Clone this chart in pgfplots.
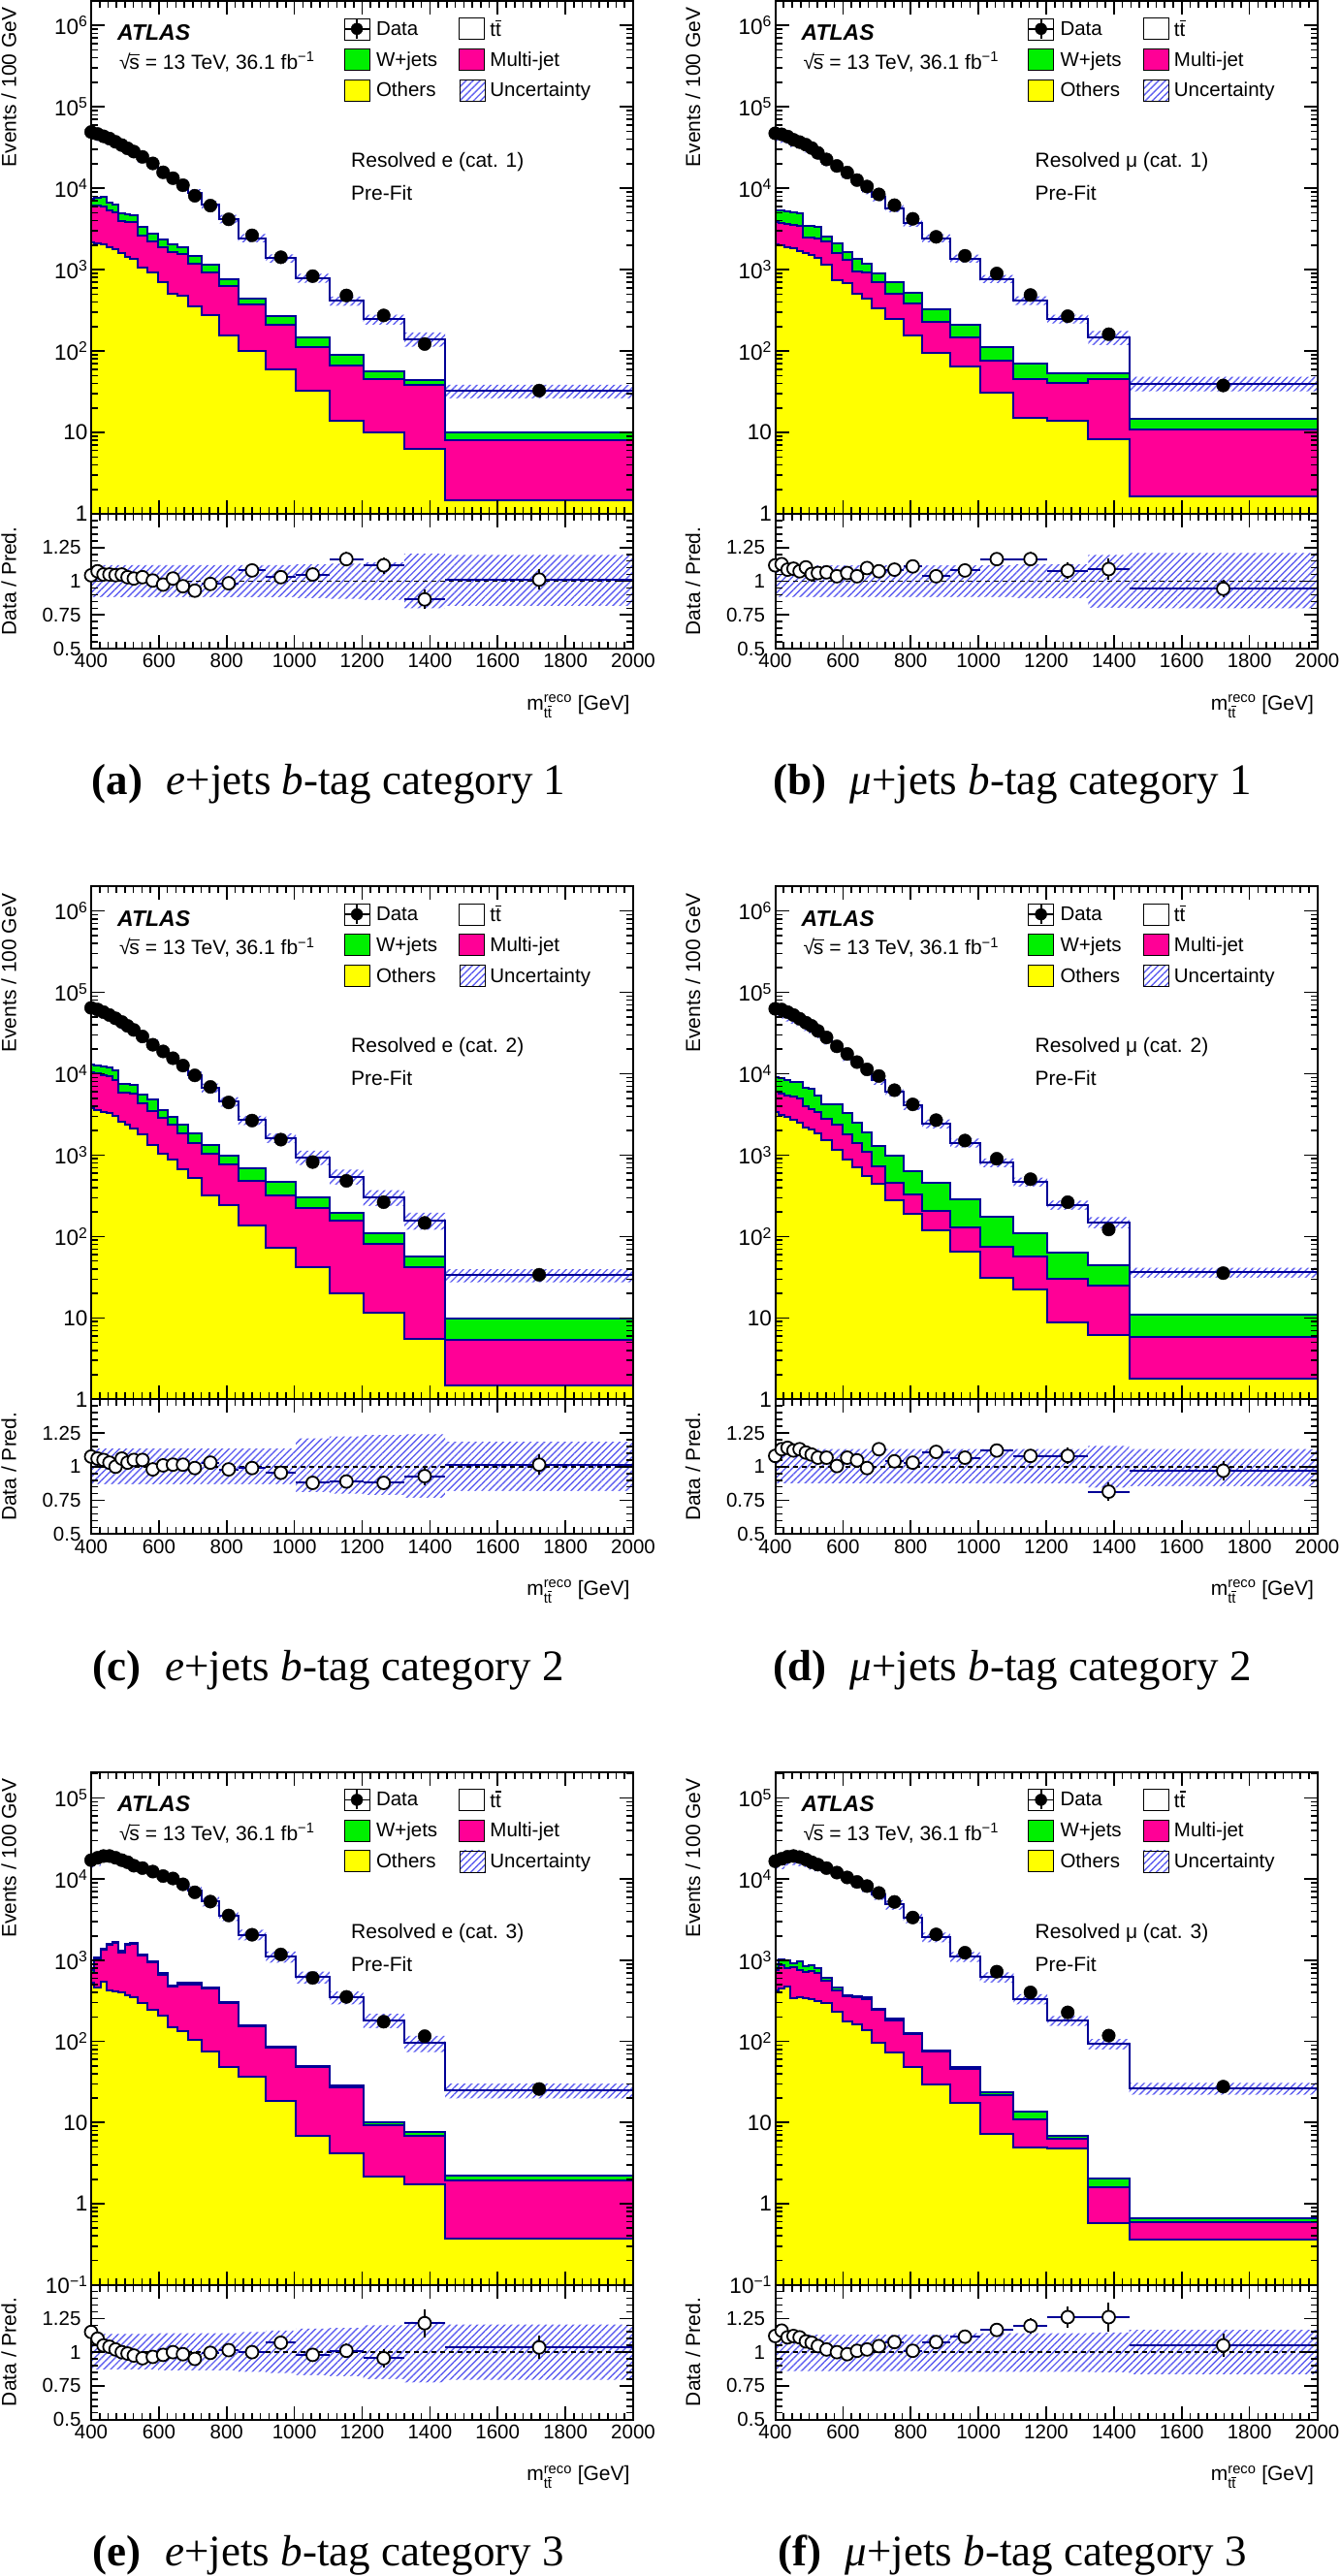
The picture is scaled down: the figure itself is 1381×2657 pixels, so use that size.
\documentclass[border=0pt]{standalone}
\usepackage{amsmath}
\usepackage{fontspec}
\setmainfont{Liberation Sans}
\newfontfamily\serifcap{Liberation Serif}
\usepackage{pgfplots}
\usepackage{pgfplotstable}
\pgfplotsset{compat=1.18}
\usetikzlibrary{patterns.meta}

\definecolor{histblue}{RGB}{0,0,150}
\definecolor{wjcol}{RGB}{0,240,0}
\definecolor{mjcol}{RGB}{255,0,150}
\definecolor{othcol}{RGB}{255,255,0}
\definecolor{hatchcol}{RGB}{95,95,240}

\newcommand\tickfont{\fontsize{20.5}{23}\selectfont}
\newcommand\ytickfont{\fontsize{22.5}{26}\selectfont}
\newcommand\txtfont{\fontsize{21}{25}\selectfont}
\newcommand\legfont{\fontsize{20.5}{24}\selectfont}
\newcommand\atlasfont{\fontsize{23}{28}\selectfont\bfseries\itshape}
\newcommand\capfont{\serifcap\fontsize{45}{50}\selectfont}
\newcommand\tbar{\leavevmode\rlap{\raisebox{0.76em}{\rule{0.29em}{0.07em}}}t}
\newcommand\ttb{t\tbar}
\newcommand\sqrts{√\kern-0.06em\rlap{\raisebox{0.70em}{\rule{0.52em}{0.06em}}}s}

% columns: e=low edge, c=centre, d=data, r=data/pred, ey=ratio stat error,
% tot, w, mj, oth = stack tops, lo/hi = ratio band. First/last rows close the areas.
\pgfplotstableread{
e c d r ey tot w mj oth lo hi
390 nan nan nan 0 0.001 0.001 0.001 0.001 0.3 0.3
390 400 49100 1.044 0.01 47030 7450 6170 2140 0.88 1.12
410 419 46400 1.074 0.01 43200 7600 6100 2100 0.88 1.12
428 436.5 43500 1.05 0.01 41430 7770 6000 2050 0.88 1.12
445 454 40800 1.05 0.01 38860 6600 5300 1870 0.88 1.12
463 472 37200 1.045 0.01 35600 6330 5130 1800 0.88 1.12
481 490.5 33900 1.05 0.01 32290 4900 3950 1620 0.88 1.12
500 507.5 30900 1.03 0.01 30000 4800 3900 1450 0.88 1.12
515 526 28200 1.02 0.01 27650 4700 3850 1350 0.88 1.12
537 551.5 24300 1.03 0.01 23590 3400 2630 1070 0.88 1.12
566 582 20200 1.005 0.01 20100 2770 2240 930 0.88 1.12
598 612.5 15700 0.975 0.01 16100 2350 1910 710 0.88 1.12
627 641.5 13300 1.02 0.01 13040 2040 1630 500 0.88 1.12
656 671 10900 0.963 0.01 11320 1910 1550 480 0.88 1.12
686 706 8090 0.93 0.012 8700 1480 1170 355 0.88 1.12
726 752 6120 0.98 0.018 6245 1140 915 276 0.88 1.12
778 806 4150 0.985 0.021 4213 762 634 154 0.88 1.12
834 875 2640 1.08 0.023 2444 445 377 101 0.88 1.12
916 960 1420 1.03 0.029 1379 268 212 60 0.88 1.12
1004 1054 832 1.05 0.036 792 147 111 32.9 0.875 1.125
1104 1153.5 482 1.164 0.053 414 90 65.8 13.9 0.87 1.13
1203 1263.5 274 1.118 0.061 245 56.7 45 9.9 0.86 1.14
1324 1384.5 122 0.865 0.071 141 44.2 38.5 6.2 0.80 1.205
1445 1722.5 32.7 1.012 0.075 32.3 10.1 8.0 1.45 0.815 1.195
2000 nan nan nan 0 32.3 10.1 8.0 1.45 0.815 1.195
2000 nan nan nan 0 0.001 0.001 0.001 0.001 0.3 0.3
}\tabA

\pgfplotstableread{
e c d r ey tot w mj oth lo hi
390 nan nan nan 0 0.001 0.001 0.001 0.001 0.3 0.3
390 400 47300 1.118 0.01 42310 5400 3800 2040 0.882 1.118
410 419 46000 1.127 0.01 40820 5400 3700 1980 0.882 1.118
428 436.5 43200 1.086 0.01 39780 5150 3600 1900 0.882 1.118
445 454 39400 1.093 0.01 36050 5000 3500 1820 0.882 1.118
463 472 36900 1.074 0.01 34360 4900 3460 1700 0.882 1.118
481 490.5 34300 1.103 0.01 31100 3460 2500 1620 0.882 1.118
500 507.5 31200 1.054 0.01 29600 3460 2460 1500 0.882 1.118
515 526 27200 1.061 0.01 25640 3400 2400 1410 0.882 1.118
537 551.5 22600 1.066 0.01 21200 2530 2200 1143 0.882 1.118
566 582 18800 1.037 0.01 18130 2100 1620 740 0.882 1.118
598 612.5 15600 1.061 0.01 14700 1650 1320 675 0.882 1.118
627 641.5 12600 1.037 0.01 12150 1350 945 500 0.882 1.118
656 671 10500 1.098 0.01 9563 1170 930 436 0.882 1.118
686 706 8410 1.074 0.012 7831 890 695 336 0.882 1.118
726 752 6200 1.086 0.018 5709 695 510 251 0.882 1.118
778 806 4210 1.11 0.021 3793 521 387 154 0.882 1.118
834 875 2530 1.037 0.023 2440 322 229 94 0.882 1.118
916 960 1480 1.08 0.03 1370 209 147 64 0.882 1.118
1004 1054 897 1.164 0.039 771 113 77 30.5 0.882 1.118
1104 1153.5 488 1.164 0.053 419 70 45.4 15.3 0.875 1.125
1203 1263.5 268 1.078 0.06 249 53 41 13.9 0.875 1.125
1324 1384.5 161 1.09 0.078 148 54 45 8.2 0.804 1.196
1445 1722.5 37.8 0.944 0.065 40 14.6 11 1.66 0.80 1.21
2000 nan nan nan 0 40 14.6 11 1.66 0.80 1.21
2000 nan nan nan 0 0.001 0.001 0.001 0.001 0.3 0.3
}\tabB

\pgfplotstableread{
e c d r ey tot w mj oth lo hi
390 nan nan nan 0 0.001 0.001 0.001 0.001 0.3 0.3
390 400 64500 1.075 0.01 60000 12860 10280 3760 0.87 1.135
410 419 61500 1.06 0.01 58020 12620 10090 3590 0.87 1.135
428 436.5 57100 1.05 0.01 54380 12400 9720 3420 0.87 1.135
445 454 52600 1.03 0.01 51070 12050 9370 3270 0.87 1.135
463 472 47900 1.0 0.01 47900 10970 8300 3060 0.87 1.135
481 490.5 43200 1.06 0.01 40750 7560 5880 2590 0.87 1.135
500 507.5 38700 1.03 0.01 37570 7500 5800 2360 0.87 1.135
515 526 34500 1.05 0.01 32860 7370 5660 2150 0.87 1.135
537 551.5 28700 1.05 0.01 27330 5560 4320 1780 0.87 1.135
566 582 22700 0.98 0.01 23160 4830 3490 1350 0.87 1.135
598 612.5 18800 1.01 0.01 18610 3590 2840 1040 0.87 1.135
627 641.5 15500 1.015 0.01 15270 2980 2360 885 0.87 1.135
656 671 12600 1.015 0.01 12410 2360 1870 670 0.87 1.135
686 706 9540 0.99 0.012 9636 1870 1410 531 0.87 1.135
726 752 6890 1.03 0.016 6689 1350 1040 318 0.87 1.135
778 806 4440 0.98 0.02 4531 973 771 240 0.87 1.135
834 875 2660 0.99 0.022 2687 683 483 137 0.87 1.135
916 960 1550 0.955 0.026 1623 474 324 72.8 0.87 1.135
1004 1054 822 0.88 0.031 934 303 225 41.6 0.81 1.21
1104 1153.5 483 0.89 0.04 543 194 158 20.3 0.80 1.225
1203 1263.5 264 0.88 0.049 300 109 82 11.6 0.79 1.235
1324 1384.5 147 0.93 0.07 158 56.6 42 5.5 0.77 1.24
1445 1722.5 33.9 1.015 0.074 33.4 9.8 5.4 1.5 0.82 1.185
2000 nan nan nan 0 33.4 9.8 5.4 1.5 0.82 1.185
2000 nan nan nan 0 0.001 0.001 0.001 0.001 0.3 0.3
}\tabC

\pgfplotstableread{
e c d r ey tot w mj oth lo hi
390 nan nan nan 0 0.001 0.001 0.001 0.001 0.3 0.3
390 400 62800 1.08 0.01 58150 9120 5990 3360 0.875 1.13
410 419 61500 1.13 0.01 54420 8800 5700 3150 0.875 1.13
428 436.5 57100 1.14 0.01 50090 8300 5460 2980 0.875 1.13
445 454 52600 1.12 0.01 46960 8000 5200 2700 0.875 1.13
463 472 47400 1.13 0.01 41950 7920 4970 2470 0.875 1.13
481 490.5 42400 1.105 0.01 38370 6700 3940 2210 0.875 1.13
500 507.5 38700 1.09 0.01 35500 6500 3700 2050 0.875 1.13
515 526 33600 1.067 0.01 31490 5460 3420 1870 0.875 1.13
537 551.5 27900 1.067 0.01 26150 4200 2790 1510 0.875 1.13
566 582 21700 1.005 0.01 21590 4200 2400 1170 0.875 1.13
598 612.5 17500 1.067 0.01 16400 3270 1820 885 0.875 1.13
627 641.5 13900 1.047 0.01 13280 2470 1410 702 0.875 1.13
656 671 11300 0.99 0.01 11410 1920 1097 556 0.875 1.13
686 706 9370 1.13 0.012 8292 1285 735 440 0.875 1.13
726 752 6280 1.04 0.016 6038 973 461 281 0.875 1.13
778 806 4200 1.03 0.02 4078 640 333 190 0.875 1.13
834 875 2690 1.11 0.024 2423 461 209 119 0.875 1.13
916 960 1510 1.067 0.029 1415 290 131 65.1 0.875 1.13
1004 1054 903 1.12 0.037 806 177 74.9 30.9 0.875 1.13
1104 1153.5 506 1.08 0.048 469 111 56.6 22.3 0.875 1.13
1203 1263.5 264 1.08 0.06 244 63.4 30 8.78 0.875 1.13
1324 1384.5 122 0.815 0.067 150 44.9 24.9 6.15 0.845 1.155
1445 1722.5 35.5 0.97 0.069 36.6 11.1 5.77 1.8 0.855 1.13
2000 nan nan nan 0 36.6 11.1 5.77 1.8 0.855 1.13
2000 nan nan nan 0 0.001 0.001 0.001 0.001 0.3 0.3
}\tabD

\pgfplotstableread{
e c d r ey tot w mj oth lo hi
390 nan nan nan 0 0.001 0.001 0.001 0.001 0.3 0.3
390 400 17150 1.15 0.01 14910 760 690 524 0.87 1.135
410 419 18360 1.10 0.01 16690 1070 1040 466 0.87 1.135
428 436.5 19280 1.05 0.01 18360 1400 1360 540 0.87 1.135
445 454 19280 1.04 0.01 18540 1585 1540 431 0.87 1.135
463 472 18360 1.02 0.01 18000 1700 1650 414 0.87 1.135
481 490.5 17150 1.0 0.01 17150 1300 1260 402 0.87 1.135
500 507.5 16180 0.99 0.01 16340 1585 1540 375 0.87 1.135
515 526 14660 0.975 0.01 15040 1660 1610 347 0.87 1.135
537 551.5 13690 0.955 0.01 14340 1180 1145 300 0.87 1.135
566 582 12400 0.965 0.01 12850 971 940 246 0.87 1.135
598 612.5 10920 0.98 0.01 11140 689 668 208 0.865 1.14
627 641.5 10200 1.0 0.01 10200 489 474 151 0.865 1.14
656 671 8640 0.985 0.012 8770 524 508 133 0.865 1.14
686 706 6890 0.95 0.013 7250 524 508 105 0.865 1.14
726 752 5290 0.995 0.019 5320 466 452 76 0.865 1.14
778 806 3570 1.015 0.022 3520 305 296 48 0.865 1.14
834 875 2066 1.0 0.024 2066 158 153 36.5 0.855 1.15
916 960 1181 1.07 0.033 1104 86.3 83.5 18.7 0.845 1.16
1004 1054 607 0.98 0.04 619 50.4 48.9 6.9 0.83 1.175
1104 1153.5 354 1.01 0.054 350 28.5 27.2 4.14 0.82 1.18
1203 1263.5 175 0.955 0.066 183 10.2 9.4 2.13 0.80 1.20
1324 1384.5 116 1.215 0.103 95.5 7.6 6.9 1.71 0.775 1.225
1445 1722.5 25.9 1.035 0.086 25.0 2.23 1.93 0.372 0.795 1.205
2000 nan nan nan 0 25.0 2.23 1.93 0.372 0.795 1.205
2000 nan nan nan 0 0.001 0.001 0.001 0.001 0.3 0.3
}\tabE

\pgfplotstableread{
e c d r ey tot w mj oth lo hi
390 nan nan nan 0 0.001 0.001 0.001 0.001 0.3 0.3
390 400 16640 1.12 0.01 14860 906 760 422 0.86 1.13
410 419 17820 1.16 0.01 15360 1020 880 444 0.86 1.13
428 436.5 18910 1.11 0.01 17040 1000 798 475 0.86 1.13
445 454 19280 1.12 0.01 17210 925 822 340 0.86 1.13
463 472 18710 1.11 0.01 16860 979 760 347 0.86 1.13
481 490.5 17490 1.08 0.01 16190 855 724 340 0.86 1.13
500 507.5 16180 1.07 0.01 15120 880 740 330 0.86 1.13
515 526 15100 1.045 0.01 14450 798 689 315 0.86 1.13
537 551.5 13690 1.02 0.01 13420 612 556 300 0.86 1.13
566 582 12050 1.0 0.01 12050 466 422 235 0.86 1.13
598 612.5 10500 0.985 0.01 10660 375 365 175 0.86 1.13
627 641.5 9250 1.01 0.01 9158 362 355 162 0.86 1.13
656 671 8220 1.02 0.012 8059 347 331 137 0.86 1.13
686 706 6760 1.045 0.013 6469 254 242 97 0.86 1.13
726 752 5240 1.075 0.02 4874 189 182 72.4 0.86 1.13
778 806 3370 1.01 0.023 3337 128 124 48.9 0.86 1.13
834 875 2085 1.075 0.026 1940 78.3 76 29.4 0.86 1.13
916 960 1241 1.115 0.034 1113 48 45.7 17.5 0.855 1.14
1004 1054 724 1.165 0.043 621 23.9 21.7 7.24 0.855 1.14
1104 1153.5 402 1.195 0.06 336 13.7 11 4.99 0.855 1.14
1203 1263.5 228 1.26 0.076 181 6.9 6.37 4.8 0.855 1.14
1324 1384.5 118 1.26 0.105 93.7 2.02 1.58 0.58 0.85 1.145
1445 1722.5 27.7 1.05 0.085 26.4 0.656 0.595 0.365 0.835 1.165
2000 nan nan nan 0 26.4 0.656 0.595 0.365 0.835 1.165
2000 nan nan nan 0 0.001 0.001 0.001 0.001 0.3 0.3
}\tabF

\pgfplotsset{
  atlasbase/.style={scale only axis, width=559pt, xmin=400, xmax=2000,
    anchor=north west, axis on top,
    axis line style={line width=2pt, black},
    tick style={line width=1.6pt, black},
    major tick length=14pt, minor tick length=7pt, tick align=inside,
    xtick={400,600,...,2000}, minor x tick num=7,
    tick label style={font=\tickfont, /pgf/number format/assume math mode=true, /pgf/number format/1000 sep={}},
  },
  row12/.style={ymin=1, ymax=2e6,
    ytick={1,10,100,1000,10000,100000,1000000},
    yticklabels={1,10,10\textsuperscript{2},10\textsuperscript{3},10\textsuperscript{4},10\textsuperscript{5},10\textsuperscript{6}},
    minor ytick={2,3,4,5,6,7,8,9,20,30,40,50,60,70,80,90,200,300,400,500,600,700,800,900,2000,3000,4000,5000,6000,7000,8000,9000,20000,30000,40000,50000,60000,70000,80000,90000,200000,300000,400000,500000,600000,700000,800000,900000}},
  row3/.style={ymin=0.1, ymax=2.1e5,
    ytick={0.1,1,10,100,1000,10000,100000},
    yticklabels={10\textsuperscript{−1},1,10,10\textsuperscript{2},10\textsuperscript{3},10\textsuperscript{4},10\textsuperscript{5}},
    minor ytick={0.2,0.3,0.4,0.5,0.6,0.7,0.8,0.9,2,3,4,5,6,7,8,9,20,30,40,50,60,70,80,90,200,300,400,500,600,700,800,900,2000,3000,4000,5000,6000,7000,8000,9000,20000,30000,40000,50000,60000,70000,80000,90000,200000}},
  mainax/.style={atlasbase, height=529pt, xticklabels={},
    yticklabel style={font=\ytickfont},
    ylabel={Events / 100 GeV},
    ylabel style={at={(axis description cs:-0.152,0.994)}, anchor=east, font=\txtfont},
    legend columns=2,
    legend style={at={(axis description cs:0,1)}, anchor=north west,
      xshift=260pt, yshift=-17pt, draw=none, fill=none, inner sep=0pt,
      font=\legfont, row sep=8.5pt, cells={anchor=west}, nodes={inner sep=0pt},
      /tikz/column 1/.style={column sep=6pt},
      /tikz/column 2/.style={column sep=22pt},
      /tikz/column 3/.style={column sep=5pt}}},
  ratioax/.style={atlasbase, height=139pt, ymin=0.5, ymax=1.5,
    ytick={0.5,0.75,1,1.25,1.5}, yticklabels={0.5,0.75,1,1.25,{}},
    minor y tick num=4,
    yticklabel style={xshift=-7pt},
    xticklabel style={yshift=-2pt},
    ylabel={Data / Pred.},
    ylabel style={at={(axis description cs:-0.152,0.5)}, anchor=center, font=\txtfont},
    xlabel={m$_{\text{t\tbar}}^{\text{reco}}$ [GeV]},
    xlabel style={at={(axis description cs:1,0)}, anchor=base east, yshift=-63pt, font=\txtfont}},
  histline/.style={draw=histblue, line width=2pt, const plot mark left, forget plot},
  hatchfill/.style={draw=none, const plot mark left, forget plot, pattern={Lines[angle=45,distance=5pt,line width=1.4pt]}, pattern color=hatchcol},
  whitefill/.style={draw=none, const plot mark left, forget plot, fill=white},
  legdata/.style={legend image code/.code={
      \path (0pt,-11pt) rectangle (26pt,11pt);
      \draw[black, line width=1.8pt] (0pt,0pt) -- (26pt,0pt);
      \draw[black, line width=1.8pt] (13pt,-10pt) -- (13pt,10pt);
      \fill[black] (13pt,0pt) circle (6pt);}},
  legbox/.style={legend image code/.code={\draw[black, line width=1.2pt, fill=#1] (0pt,-11pt) rectangle (26pt,11pt);}},
  legunc/.style={legend image code/.code={\path[pattern={Lines[angle=45,distance=5pt,line width=1.4pt]}, pattern color=hatchcol] (0pt,-11pt) rectangle (26pt,11pt);}},
}

\newcommand{\panel}[6]{%
\begin{axis}[ymode=log, mainax, #5, at={(#2pt,#3pt)}]
  \addplot[hatchfill] table[x=e, y expr=\thisrow{tot}*\thisrow{hi}]{#1};
  \addplot[whitefill] table[x=e, y expr=\thisrow{tot}*\thisrow{lo}]{#1};
  \addplot[histline] table[x=e,y=tot]{#1};
  \addplot[histline, fill=wjcol] table[x=e,y=w]{#1};
  \addplot[histline, fill=mjcol] table[x=e,y=mj]{#1};
  \addplot[histline, fill=othcol] table[x=e,y=oth]{#1};
  \addplot[forget plot, only marks, mark=*, mark size=6.8pt, black] table[x=c,y=d]{#1};
  \addlegendimage{legdata}\addlegendentry{Data}
  \addlegendimage{legbox=white}\addlegendentry{\ttb}
  \addlegendimage{legbox=wjcol}\addlegendentry{W+jets}
  \addlegendimage{legbox=mjcol}\addlegendentry{Multi-jet}
  \addlegendimage{legbox=othcol}\addlegendentry{Others}
  \addlegendimage{legunc}\addlegendentry{Uncertainty}
  \node[anchor=west, inner sep=0pt, font=\atlasfont] at ([xshift=27pt,yshift=-33pt]axis description cs:0,1) {ATLAS};
  \node[anchor=west, inner sep=0pt, font=\txtfont] at ([xshift=29pt,yshift=-63pt]axis description cs:0,1) {\sqrts{} = 13 TeV, 36.1 fb\textsuperscript{−1}};
  \node[anchor=west, inner sep=0pt, font=\txtfont] at ([xshift=268pt,yshift=-166pt]axis description cs:0,1) {#6};
  \node[anchor=west, inner sep=0pt, font=\txtfont] at ([xshift=268pt,yshift=-198pt]axis description cs:0,1) {Pre-Fit};
\end{axis}
\begin{axis}[ratioax, at={(#2pt,#4pt)}]
  \addplot[hatchfill] table[x=e,y=hi]{#1};
  \addplot[whitefill] table[x=e,y=lo]{#1};
  \addplot[forget plot, black, line width=1.5pt, dash pattern=on 5pt off 4pt] coordinates {(400,1) (2000,1)};
  \addplot[forget plot, only marks, mark=none, error bars/.cd, x dir=both, x explicit, error mark=none, error bar style={line width=2pt, histblue}] table[x=c, y=r, x error expr=\thisrow{c}-\thisrow{e}]{#1};
  \addplot[forget plot, only marks, mark=*, mark size=6.5pt, mark options={fill=white, draw=black, line width=1.8pt}, error bars/.cd, y dir=both, y explicit, error mark=none, error bar style={line width=2pt, black}] table[x=c, y=r, y error=ey]{#1};
\end{axis}
}

\begin{document}
\begin{tikzpicture}
\useasboundingbox (0pt,0pt) rectangle (1381pt,-2657pt);
\panel{\tabA}{94}{-1}{-530}{row12}{Resolved e (cat. 1)}
\panel{\tabB}{799.5}{-1}{-530}{row12}{Resolved μ (cat. 1)}
\panel{\tabC}{94}{-914.3}{-1443.3}{row12}{Resolved e (cat. 2)}
\panel{\tabD}{799.5}{-914.3}{-1443.3}{row12}{Resolved μ (cat. 2)}
\panel{\tabE}{94}{-1827.6}{-2356.6}{row3}{Resolved e (cat. 3)}
\panel{\tabF}{799.5}{-1827.6}{-2356.6}{row3}{Resolved μ (cat. 3)}
\node[font=\capfont] at (339pt,-809pt) {\textbf{(a)}\hspace{0.55em}\textit{e}+jets \textit{b}-tag category 1};
\node[font=\capfont] at (1044pt,-809pt) {\textbf{(b)}\hspace{0.55em}\textit{μ}+jets \textit{b}-tag category 1};
\node[font=\capfont] at (339pt,-1722.3pt) {\textbf{(c)}\hspace{0.55em}\textit{e}+jets \textit{b}-tag category 2};
\node[font=\capfont] at (1044pt,-1722.3pt) {\textbf{(d)}\hspace{0.55em}\textit{μ}+jets \textit{b}-tag category 2};
\node[font=\capfont] at (339pt,-2635.6pt) {\textbf{(e)}\hspace{0.55em}\textit{e}+jets \textit{b}-tag category 3};
\node[font=\capfont] at (1044pt,-2635.6pt) {\textbf{(f)}\hspace{0.55em}\textit{μ}+jets \textit{b}-tag category 3};
\end{tikzpicture}
\end{document}
